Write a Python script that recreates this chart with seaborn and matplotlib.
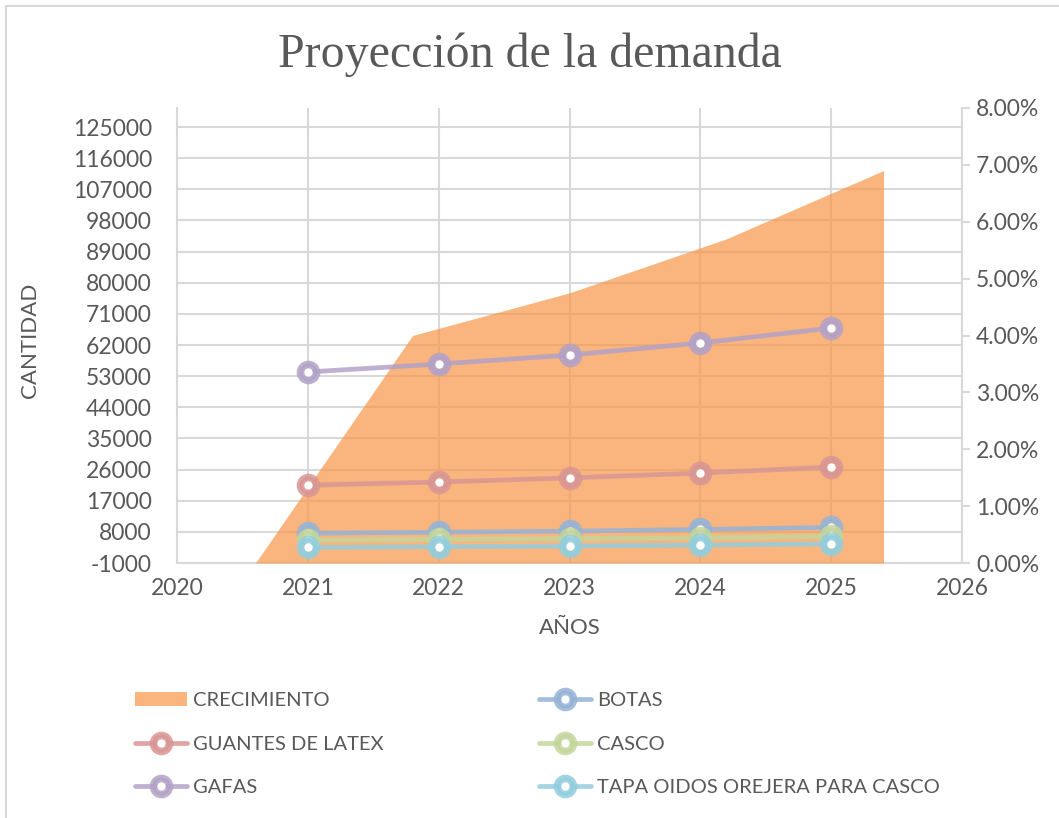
import matplotlib
matplotlib.use("Agg")
import matplotlib.pyplot as plt
import matplotlib.ticker as mticker
from matplotlib.lines import Line2D
from matplotlib.patches import Patch, Rectangle
from matplotlib.legend_handler import HandlerTuple
import seaborn as sns

# data
years = [2021, 2022, 2023, 2024, 2025]
botas = [7600, 7900, 8200, 8700, 9300]
guantes = [21500, 22400, 23600, 25000, 26700]
casco = [5600, 5800, 6000, 6300, 6700]
gafas = [54200, 56500, 59100, 62600, 66900]
tapa = [3500, 3700, 3900, 4200, 4500]
crecimiento = [0.0, 0.040, 0.0475, 0.057, 0.069]

seriesNames = ["BOTAS", "GUANTES DE LATEX", "CASCO", "GAFAS", "TAPA OIDOS OREJERA PARA CASCO"]
seriesValues = [botas, guantes, casco, gafas, tapa]
seriesColors = ["#95B3D7", "#D99694", "#C3D69B", "#B3A2C7", "#93CDDD"]
areaColor = "#F79646"

yTicks = list(range(-1000, 125001, 9000))
xTicks = list(range(2020, 2027))
pctTicks = [i / 100 for i in range(0, 9)]

sns.set_style("white")
plt.rcParams["font.family"] = ["Lato", "DejaVu Sans"]
plt.rcParams["axes.unicode_minus"] = False

textGrey = "#595959"
gridGrey = "#D9D9D9"
W, H = 1059, 818
tickSize = 16.5

fig = plt.figure(figsize=(W / 100, H / 100), dpi=100)
rect = [177 / W, 1 - 563 / H, 785 / W, 455 / H]

# base axes: grid, left and bottom axis
ax = fig.add_axes(rect)
ax.set_xlim(2020, 2026)
ax.set_ylim(-1000, 130500)
ax.set_xticks(xTicks)
ax.set_yticks(yTicks)
ax.grid(True, color=gridGrey, lw=1.5)
ax.tick_params(axis="y", length=0, labelsize=tickSize, colors=textGrey, pad=18)
ax.tick_params(axis="x", length=0, labelsize=tickSize, colors=textGrey, pad=11)
for side in ["top", "right"]:
    ax.spines[side].set_visible(False)
for side in ["left", "bottom"]:
    ax.spines[side].set_color(gridGrey)
    ax.spines[side].set_linewidth(1.5)

# secondary axes: growth area
axA = fig.add_axes(rect, label="area")
axA.patch.set_visible(False)
axA.set_xlim(-0.5, len(crecimiento) - 0.5)
axA.set_ylim(0, 0.08)
axA.fill_between(range(len(crecimiento)), 0, crecimiento, color=areaColor, alpha=0.7, lw=0)
axA.xaxis.set_visible(False)
axA.yaxis.tick_right()
axA.set_yticks(pctTicks)
axA.yaxis.set_major_formatter(mticker.PercentFormatter(1.0, decimals=2))
axA.tick_params(axis="y", length=6, width=1.5, color=gridGrey, labelsize=tickSize, colors=textGrey, pad=4)
for side in ["top", "left", "bottom"]:
    axA.spines[side].set_visible(False)
axA.spines["right"].set_color(gridGrey)
axA.spines["right"].set_linewidth(1.5)

# top axes: product lines
axL = fig.add_axes(rect, label="lines", sharex=ax, sharey=ax)
axL.patch.set_visible(False)
axL.axis("off")
for name, vals, col in zip(seriesNames, seriesValues, seriesColors):
    sns.lineplot(x=years, y=vals, ax=axL, color=col, lw=3.4, alpha=0.85,
                 marker="o", ms=13, mfc=col, mec=col, mew=4, legend=False)
    axL.plot(years, vals, "o", color="white", ms=5, ls="none")

# titles and axis labels
fig.text(0.5, 1 - 55 / H, "Proyección de la demanda", ha="center", va="center",
         fontsize=34.5, color=textGrey, family=["Liberation Serif", "DejaVu Serif"])
fig.text(30 / W, 1 - 340 / H, "CANTIDAD", rotation=90, ha="center", va="center",
         fontsize=16, color=textGrey)
fig.text(570 / W, 1 - 628 / H, "AÑOS", ha="center", va="center", fontsize=16, color=textGrey)

# legend
def lineHandle(col):
    ring = Line2D([0], [0], color=col, lw=3.4, alpha=0.85, marker="o", ms=13,
                  mfc=col, mec=col, mew=4)
    dot = Line2D([0], [0], ls="none", marker="o", ms=5, color="white")
    return (ring, dot)

handles = [Patch(facecolor=areaColor, alpha=0.7, lw=0),
           lineHandle(seriesColors[1]), lineHandle(seriesColors[3]),
           lineHandle(seriesColors[0]), lineHandle(seriesColors[2]), lineHandle(seriesColors[4])]
labels = ["CRECIMIENTO", seriesNames[1], seriesNames[3], seriesNames[0], seriesNames[2], seriesNames[4]]
fig.legend(handles, labels, loc="upper left", bbox_to_anchor=(135 / W, 1 - 692 / H),
           ncol=2, frameon=False, fontsize=14.5, labelcolor=textGrey, borderpad=0,
           borderaxespad=0, handlelength=2.6, handletextpad=0.3, columnspacing=7.7,
           labelspacing=1.32, handler_map={tuple: HandlerTuple(ndivide=1)})

# chart border (right and bottom edges fall outside the picture)
fig.patches.append(Rectangle((6 / W, -10 / H), 1100 / W, 822 / H, transform=fig.transFigure,
                             fill=False, edgecolor=gridGrey, lw=1.5))

fig.savefig("out.png", dpi=100)
